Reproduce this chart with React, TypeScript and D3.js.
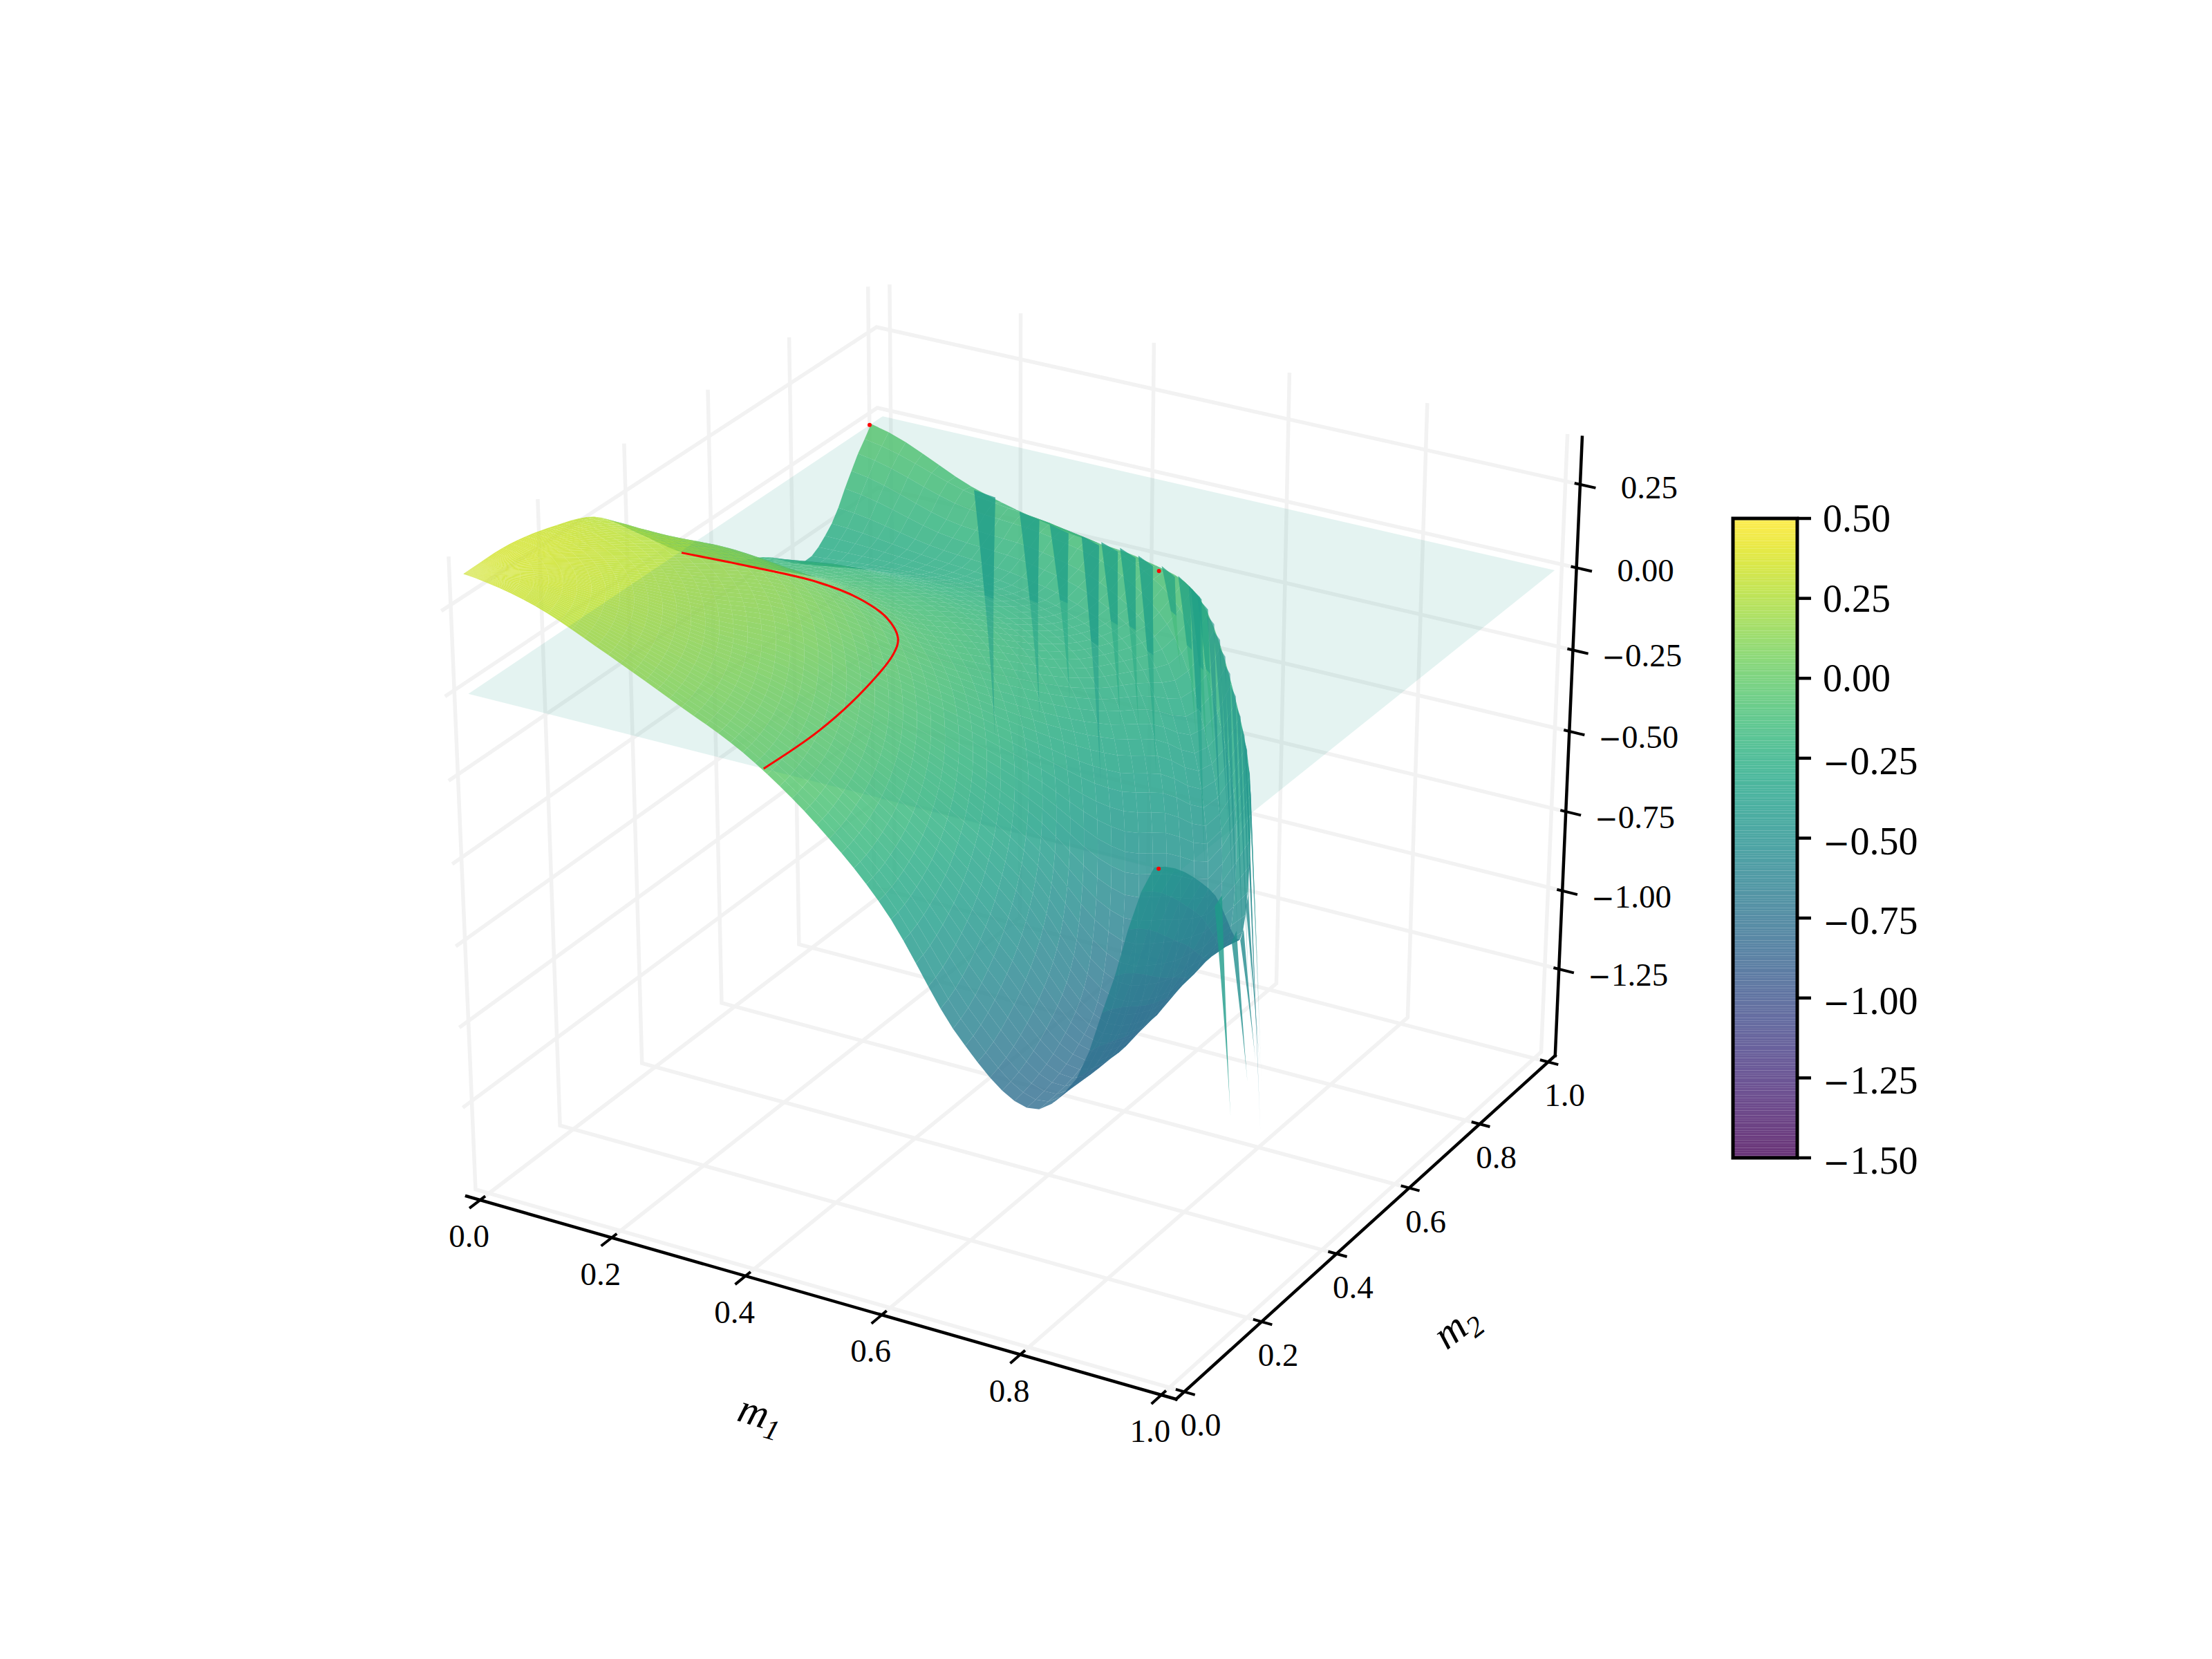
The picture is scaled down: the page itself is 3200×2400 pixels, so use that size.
import React from "react";
import * as d3 from "d3";

const X0 = -0.0208, X1 = 1.0208, Y0 = -0.0208, Y1 = 1.0208, Z0 = -1.53, Z1 = 0.39;

const m1Ticks = [0, 0.2, 0.4, 0.6, 0.8, 1];
const m2Ticks = [0, 0.2, 0.4, 0.6, 0.8, 1];
const zTicks = [-1.25, -1, -0.75, -0.5, -0.25, 0, 0.25];
const colorbarTicks = [-1.5, -1.25, -1, -0.75, -0.5, -0.25, 0, 0.25, 0.5];

// radial stations and surface heights along rays from the origin, one list per ray angle
const rNodes = [0, 0.1, 0.2, 0.3, 0.4, 0.5, 0.6, 0.7, 0.8, 0.87, 0.92, 0.95, 0.97];
const ray00 = [0.35, 0.31, 0.225, 0.13, 0.03, -0.12, -0.33, -0.64, -0.8, -0.66, -0.33, -0.1, 0];
const ray10 = [0.35, 0.315, 0.24, 0.15, 0.05, -0.085, -0.28, -0.54, -0.78, -0.72, -0.5, -0.32, -0.23];
const ray20 = [0.35, 0.32, 0.255, 0.17, 0.08, -0.05, -0.21, -0.42, -0.72, -0.73, -0.64, -0.58, -0.55];
const ray30 = [0.35, 0.33, 0.27, 0.19, 0.12, -0.015, -0.15, -0.3, -0.48, -0.5, -0.52, -0.42, -0.32];
const ray40 = [0.35, 0.335, 0.28, 0.215, 0.16, 0.03, -0.09, -0.2, -0.28, -0.3, -0.35, -0.3, -0.2];
const ray50 = [0.35, 0.34, 0.29, 0.235, 0.18, 0.07, -0.06, -0.14, -0.2, -0.2, -0.18, -0.12, -0.05];
const ray60 = [0.35, 0.345, 0.3, 0.245, 0.19, 0.075, -0.05, -0.12, -0.19, -0.2, -0.14, -0.08, -0.08];
const ray70 = [0.35, 0.35, 0.31, 0.255, 0.18, 0.055, -0.06, -0.13, -0.2, -0.22, -0.15, -0.1, -0.13];
const ray80 = [0.35, 0.35, 0.32, 0.26, 0.15, 0.01, -0.09, -0.15, -0.24, -0.24, -0.17, -0.11, -0.11];
const ray90 = [0.35, 0.35, 0.32, 0.265, 0.13, -0.01, -0.12, -0.19, -0.285, -0.22, -0.1, -0.04, 0];
const rays = [ray00, ray10, ray20, ray30, ray40, ray50, ray60, ray70, ray80, ray90];

// thin blades hanging from the rim: angle (deg) and tip height
const bladeAngle = [79, 74.2, 70.8, 67, 64.5, 62, 59.4, 55.8, 53, 51, 50.7, 49.3];
const bladeTip = [-0.9, -0.78, -0.68, -0.89, -0.675, -0.65, -0.76, -0.37, -0.53, -0.91, -0.59, -0.55];
const rightBladeAngle = [47.5, 46, 44.5, 43, 41, 39, 37];
const rightBladeTip = [-0.8, -0.7, -0.9, -1.0, -1.05, -1.1, -1.15];
const frontBladeAngle = [12, 17, 20.5, 23.5, 26, 28.5, 31, 33, 35.5];
const frontBladeTip = [-0.93, -0.925, -0.93, -1.0, -1.25, -1.15, -1.145, -1.05, -1.1];

// zero-level curve on the plane
const redM1 = [0.428, 0.431, 0.418, 0.396, 0.377, 0.334, 0.271, 0.201, 0.099, 0.003];
const redM2 = [0, 0.124, 0.256, 0.362, 0.405, 0.45, 0.484, 0.5, 0.498, 0.491];
const dotM1 = [0, 0.976, 0.562];
const dotM2 = [0.966, 0, 0.7465];

// camera calibration: known box points [m1, m2, z, px, py]
const calibration = [
  [0, 0, 0, 679, 1002], [1, 0, 0, 1699, 1266], [1, 1, 0, 2251, 822], [0, 1, 0, 1276, 601],
  [0, Y0, Z0, 692, 1733], [1, Y0, Z0, 1679, 2018], [X1, 0, Z0, 1717, 2013], [X1, 0.6, Z0, 2040, 1718],
  [X1, Y1, Z0, 2249, 1528], [X1, Y1, Z1, 2290, 633], [X1, Y1, 0.25, 2285, 701], [X1, Y1, -1.25, 2253, 1403],
  [X0, Y1, 0.25, 1267, 472], [X0, Y1, 0, 1269, 590], [X0, 0, Z1, 648, 808], [X0, 0, Z0, 690, 1725],
  [X0, Y0, 0.25, 639, 882], [X0, Y0, 0, 643, 1006], [X0, 1, Z1, 1257, 416], [0, Y1, Z1, 1288, 413], [X1, Y0, Z0, 1701, 2023],
];

function solveCamera(): number[] {
  const n = 11;
  const A = d3.range(n).map(() => new Array(n + 1).fill(0));
  const add = (row: number[], b: number) => {
    for (let i = 0; i < n; i++) {
      for (let j = 0; j < n; j++) A[i][j] += row[i] * row[j];
      A[i][n] += row[i] * b;
    }
  };
  for (const [x, y, z, u, v] of calibration) {
    add([x, y, z, 1, 0, 0, 0, 0, -u * x, -u * y, -u * z], u);
    add([0, 0, 0, 0, x, y, z, 1, -v * x, -v * y, -v * z], v);
  }
  for (let c = 0; c < n; c++) {
    let p = c;
    for (let r = c + 1; r < n; r++) if (Math.abs(A[r][c]) > Math.abs(A[p][c])) p = r;
    [A[c], A[p]] = [A[p], A[c]];
    for (let r = 0; r < n; r++) {
      if (r === c) continue;
      const f = A[r][c] / A[c][c];
      for (let k = c; k <= n; k++) A[r][k] -= f * A[c][k];
    }
  }
  return d3.range(n).map((i) => A[i][n] / A[i][i]);
}
const cam = solveCamera();
const depth = (x: number, y: number, z: number) => cam[8] * x + cam[9] * y + cam[10] * z + 1;
const project = (x: number, y: number, z: number): [number, number] => {
  const w = depth(x, y, z);
  return [(cam[0] * x + cam[1] * y + cam[2] * z + cam[3]) / w, (cam[4] * x + cam[5] * y + cam[6] * z + cam[7]) / w];
};
const polar = (r: number, deg: number) => [r * Math.cos((deg * Math.PI) / 180), r * Math.sin((deg * Math.PI) / 180)];

const rIndex = d3.scaleLinear().domain(rNodes).range(d3.range(rNodes.length)).clamp(true);
const spline = (v: number[], t: number) => {
  const n = v.length;
  const i = Math.min(Math.floor(t), n - 2);
  const f = t - i;
  const a = v[Math.max(i - 1, 0)], b = v[i], c = v[i + 1], d = v[Math.min(i + 2, n - 1)];
  return 0.5 * (2 * b + (c - a) * f + (2 * a - 5 * b + 4 * c - d) * f * f + (3 * b - a - 3 * c + d) * f * f * f);
};
const height = (r: number, deg: number) => {
  const t = rIndex(r);
  return spline(rays.map((ray) => spline(ray, t)), Math.min(deg / 10, rays.length - 1));
};

const color = d3.scaleSequential(d3.interpolateViridis).domain([-1.5, 0.5]);
const pathOf = d3.line<[number, number]>();
const closed = (pts: [number, number][]) => pathOf(pts) + "Z";
const signedArea = (p: [number, number][]) =>
  d3.sum(p, (q, i) => q[0] * p[(i + 1) % p.length][1] - p[(i + 1) % p.length][0] * q[1]);

const RMAX = 0.97;
const NR = 56, NT = 56;
type Cell = { d: string; w: number; fill: string };
const cells: Cell[] = [];
for (let i = 0; i < NR; i++) {
  for (let j = 0; j < NT; j++) {
    const r0 = (RMAX * i) / NR, r1 = (RMAX * (i + 1)) / NR;
    const t0 = (90 * j) / NT, t1 = (90 * (j + 1)) / NT;
    const corners = [[r0, t0], [r1, t0], [r1, t1], [r0, t1]].map(([r, t]) => {
      const [x, y] = polar(r, t);
      return [x, y, height(r, t)];
    });
    const zm = d3.mean(corners, (c) => c[2]) as number;
    const w = d3.mean(corners, (c) => depth(c[0], c[1], c[2])) as number;
    const screen = corners.map((c) => project(c[0], c[1], c[2]));
    // cells seen from underneath take a deeper tone of the map
    const back = signedArea(screen) > 0;
    const fill = back ? color(-0.45 + 0.5 * zm) : color(zm);
    cells.push({ d: closed(screen), w, fill });
  }
}
cells.sort((a, b) => b.w - a.w);

const bladePath = (deg: number, tip: number, halfWidth: number, upTo = 1) => {
  const top = height(RMAX, deg);
  const steps = d3.range(0, 11).map((k) => (k / 10) * upTo);
  const side = (sign: number) =>
    steps.map((t): [number, number] => {
      const dd = deg + sign * halfWidth * Math.pow(1 - t, 1.6);
      const [x, y] = polar(RMAX + 0.02 * t, dd);
      return project(x, y, top + (tip - top) * t);
    });
  return closed([...side(-1), ...side(1).reverse()]);
};

const seg = (pts: number[][]) => pathOf(pts.map((p) => project(p[0], p[1], p[2])));

const gridPaths = [
  ...m1Ticks.map((t) => seg([[t, Y0, Z0], [t, Y1, Z0], [t, Y1, Z1]])),
  ...m2Ticks.map((t) => seg([[X1, t, Z0], [X0, t, Z0], [X0, t, Z1]])),
  ...zTicks.map((t) => seg([[X0, Y0, t], [X0, Y1, t], [X1, Y1, t]])),
];

const planePath = closed([[0, 0], [1, 0], [1, 1], [0, 1]].map(([x, y]) => project(x, y, 0)));
const redPath = d3.line<[number, number]>().curve(d3.curveCatmullRom)(
  redM1.map((m, i) => project(m, redM2[i], 0))
) as string;

const cbY = d3.scaleLinear().domain([-1.5, 0.5]).range([1675, 750]);
const cbRows = d3.range(256);
const fmt = (v: number, digits: number) => Math.abs(v).toFixed(digits);
const serif = "'Liberation Serif', 'DejaVu Serif', serif";

const Signed = ({ v, digits, minusSize }: { v: number; digits: number; minusSize: number }) => (
  <>
    {v < 0 ? <tspan fontFamily="'DejaVu Sans'" fontSize={minusSize}>{"\u2212"}</tspan> : null}
    <tspan>{fmt(v, digits)}</tspan>
  </>
);

export default function App() {
  return (
    <svg width={3200} height={2400} style={{ position: "absolute", left: 0, top: 0, background: "#fff" }}>
      <g fill="none" stroke="#f2f2f2" strokeWidth={5.5}>
        {gridPaths.map((d, i) => <path key={i} d={d as string} />)}
      </g>
      <g>
        {cells.map((c, i) => <path key={i} d={c.d} fill={c.fill} fillOpacity={0.8} />)}
      </g>
      <g>
        {bladeAngle.map((a, i) => (
          <path key={i} d={bladePath(a, bladeTip[i], 1.1)} fill={color((height(RMAX, a) + bladeTip[i]) / 2 + 0.1)} fillOpacity={0.5} />
        ))}
        {bladeAngle.map((a, i) => (
          <path key={i} d={bladePath(a, bladeTip[i], 1.1, 0.42)} fill={color(-0.38)} fillOpacity={0.55} />
        ))}
        {rightBladeAngle.map((a, i) => (
          <path key={i} d={bladePath(a, rightBladeTip[i], 0.8)} fill={color(-0.5)} fillOpacity={0.6} />
        ))}
        {frontBladeAngle.map((a, i) => (
          <path key={i} d={bladePath(a, frontBladeTip[i], 0.9)} fill={color((height(RMAX, a) + frontBladeTip[i]) / 2 + 0.2)} fillOpacity={0.8} />
        ))}
      </g>
      <path d={planePath} fill="#1f9e89" fillOpacity={0.12} />
      <path d={redPath} fill="none" stroke="#f00" strokeWidth={3} />
      {dotM1.map((m, i) => {
        const [x, y] = project(m, dotM2[i], 0);
        return <circle key={i} cx={x} cy={y} r={3} fill="#f00" />;
      })}

      <g stroke="#000" fill="none" strokeWidth={4.5} strokeLinecap="square">
        <path d={seg([[X0, Y0, Z0], [X1, Y0, Z0]]) as string} />
        <path d={seg([[X1, Y0, Z0], [X1, Y1, Z0]]) as string} />
        <path d={seg([[X1, Y1, Z0], [X1, Y1, Z1]]) as string} />
      </g>
      <g stroke="#000" fill="none" strokeWidth={4}>
        {m1Ticks.map((t) => <path key={t} d={seg([[t, Y0 + 0.012, Z0], [t, Y0 - 0.025, Z0]]) as string} />)}
        {m2Ticks.map((t) => <path key={t} d={seg([[X1 - 0.012, t, Z0], [X1 + 0.015, t, Z0]]) as string} />)}
        {zTicks.map((t) => <path key={t} d={seg([[X1 - 0.008, Y1, t], [X1 + 0.022, Y1, t]]) as string} />)}
      </g>
      <g fontFamily={serif} fontSize={47} fill="#000" textAnchor="middle">
        {m1Ticks.map((t) => {
          const [x, y] = project(t, Y0, Z0);
          return <text key={t} x={x - 16} y={y + 68}>{t.toFixed(1)}</text>;
        })}
        {m2Ticks.map((t) => {
          const [x, y] = project(X1, t, Z0);
          return <text key={t} x={x + 24} y={y + 64}>{t.toFixed(1)}</text>;
        })}
        {zTicks.map((t) => {
          const [x, y] = project(X1, Y1, t);
          return <text key={t} x={x + 100} y={y + (t < 0 ? 24 : 20)}><Signed v={t} digits={2} minusSize={40} /></text>;
        })}
      </g>
      <g fontFamily={serif} fontSize={60} fontStyle="italic" fill="#000">
        <text transform="translate(1095,2064) rotate(17)" textAnchor="middle">m<tspan fontSize={42} dy={12}>1</tspan></text>
        <text transform="translate(2118,1934) rotate(-38)" textAnchor="middle">m<tspan fontSize={42} dy={12}>2</tspan></text>
      </g>

      <g>
        {cbRows.map((i) => (
          <rect key={i} x={2507} width={93} y={cbY(-1.5 + ((i + 1) * 2) / 256)} height={cbY(-1.5) - cbY(-1.5 + 2 / 256)}
            fill={d3.interpolateViridis(i / 255)} fillOpacity={0.8} />
        ))}
      </g>
      <rect x={2507} y={750} width={93} height={925} fill="none" stroke="#000" strokeWidth={5} />
      <g stroke="#000" strokeWidth={4.5}>
        {colorbarTicks.map((t) => <line key={t} x1={2600} x2={2620} y1={cbY(t)} y2={cbY(t)} />)}
      </g>
      <g fontFamily={serif} fontSize={56} fill="#000">
        {colorbarTicks.map((t) => (
          <text key={t} x={2637} y={cbY(t) + (t < 0 ? 23 : 19)}><Signed v={t} digits={2} minusSize={47} /></text>
        ))}
      </g>
    </svg>
  );
}
